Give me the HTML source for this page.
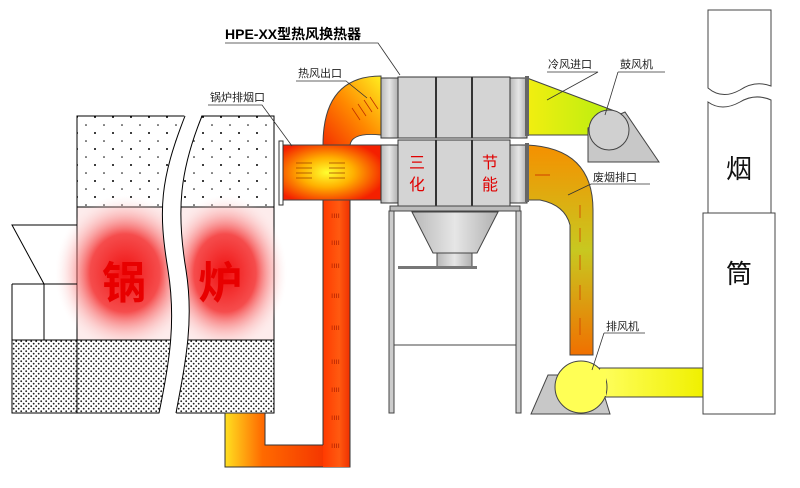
<!DOCTYPE html>
<html><head><meta charset="utf-8"><style>
html,body{margin:0;padding:0;background:#fff;}
svg{display:block;}
text{font-family:"Liberation Sans","Noto Sans CJK SC",sans-serif;}
</style></head><body>
<svg width="800" height="488" viewBox="0 0 800 488" xmlns="http://www.w3.org/2000/svg">
<defs>
<pattern id="dots" width="18" height="16" patternUnits="userSpaceOnUse"><rect width="18" height="16" fill="#fff"/><circle cx="5" cy="5" r="1" fill="#000"/><circle cx="14" cy="13" r="0.8" fill="#000"/></pattern>
<pattern id="stip" width="5" height="5" patternUnits="userSpaceOnUse"><rect width="5" height="5" fill="#fff"/><circle cx="1.2" cy="1.2" r="0.9" fill="#222"/><circle cx="3.7" cy="3.7" r="0.9" fill="#222"/></pattern>
<radialGradient id="glow" cx="0.5" cy="0.5" r="0.5"><stop offset="0" stop-color="#f01010" stop-opacity="1"/><stop offset="0.5" stop-color="#f43030" stop-opacity="0.85"/><stop offset="1" stop-color="#fde0e0" stop-opacity="0"/></radialGradient>
<radialGradient id="hduct" cx="0.45" cy="0.5" r="0.6"><stop offset="0" stop-color="#ffff30"/><stop offset="0.45" stop-color="#ffb000"/><stop offset="1" stop-color="#f42000"/></radialGradient>
<linearGradient id="vduct" x1="0" y1="0" x2="1" y2="0"><stop offset="0" stop-color="#ff3a00"/><stop offset="0.6" stop-color="#ff5a10"/><stop offset="1" stop-color="#f03000"/></linearGradient>
<linearGradient id="bduct" x1="0" y1="0" x2="1" y2="0"><stop offset="0" stop-color="#ffe020"/><stop offset="0.3" stop-color="#ff6a00"/><stop offset="1" stop-color="#f02000"/></linearGradient>
<linearGradient id="elbow" x1="0" y1="1" x2="1" y2="0"><stop offset="0" stop-color="#f43000"/><stop offset="0.5" stop-color="#ff8a00"/><stop offset="1" stop-color="#ffee20"/></linearGradient>
<linearGradient id="cold" x1="0" y1="0" x2="1" y2="0"><stop offset="0" stop-color="#f2ee10"/><stop offset="1" stop-color="#b8ee10"/></linearGradient>
<linearGradient id="exh" x1="0" y1="0" x2="0" y2="1"><stop offset="0" stop-color="#f59000"/><stop offset="0.5" stop-color="#c8c820"/><stop offset="1" stop-color="#f07000"/></linearGradient>
<linearGradient id="ylw" x1="0" y1="0" x2="1" y2="0"><stop offset="0" stop-color="#ffff60"/><stop offset="1" stop-color="#f0f000"/></linearGradient>
<linearGradient id="metal" x1="0" y1="0" x2="1" y2="0"><stop offset="0" stop-color="#b8b8b8"/><stop offset="0.5" stop-color="#e6e6e6"/><stop offset="1" stop-color="#b0b0b0"/></linearGradient>
</defs>

<!-- boiler -->
<rect x="77" y="116" width="197" height="91" fill="url(#dots)" stroke="#000"/>
<rect x="77" y="207" width="197" height="133" fill="#fdecec" stroke="#000"/>
<ellipse cx="125" cy="273" rx="70" ry="78" fill="url(#glow)"/>
<ellipse cx="225" cy="273" rx="62" ry="78" fill="url(#glow)"/>
<rect x="77" y="340" width="197" height="73" fill="url(#stip)" stroke="#000"/>
<rect x="12" y="340" width="65" height="73" fill="url(#stip)" stroke="#000"/>
<polyline points="12,284 77,284" fill="none" stroke="#000"/>
<line x1="12" y1="284" x2="12" y2="340" stroke="#000"/>
<line x1="44" y1="284" x2="44" y2="340" stroke="#000"/>
<polyline points="77,225 12,225 44,284" fill="none" stroke="#000"/>
<path d="M185,114 C160,180 158,210 168,270 C176,320 170,360 159,415 L176,415 C186,360 194,320 186,270 C176,210 180,170 202,114 Z" fill="#fff"/>
<path d="M185,116 C160,180 158,210 168,270 C176,320 170,360 159,413" fill="none" stroke="#000"/>
<path d="M202,116 C180,170 176,210 186,270 C194,320 186,360 176,413" fill="none" stroke="#000"/>
<text x="102" y="298" font-size="44" fill="#e80000" font-weight="bold">锅</text>
<text x="198" y="298" font-size="44" fill="#e80000" font-weight="bold">炉</text>

<!-- ducts from boiler -->
<path d="M225,413 L265,413 L265,445 L323,445 L323,200 L350,200 L350,467 L225,467 Z" fill="url(#bduct)" stroke="#333"/>
<rect x="323" y="200" width="27" height="267" fill="url(#vduct)"/>
<line x1="323" y1="200" x2="323" y2="445" stroke="#333"/><line x1="350" y1="200" x2="350" y2="467" stroke="#333"/>
<g font-size="8" fill="#b02000"><text x="331" y="218">ıııı</text><text x="331" y="245">ıııı</text><text x="331" y="268">ıııı</text><text x="331" y="298">ıııı</text><text x="331" y="330">ıııı</text><text x="331" y="364">ıııı</text><text x="331" y="392">ıııı</text><text x="331" y="420">ıııı</text><text x="331" y="448">ıııı</text></g>
<path d="M323,145 Q323,76 381,76 L381,135 Q352,132 350,145 Z" fill="url(#elbow)" stroke="#444"/>
<g stroke="#c03000" fill="none" stroke-width="0.8"><path d="M352,108 l8,12 M358,104 l8,12 M364,100 l8,12 M370,97 l8,12"/></g>
<rect x="283" y="145" width="98" height="55" fill="url(#hduct)" stroke="#444"/>
<rect x="279" y="141" width="4" height="64" fill="#fff" stroke="#333"/>
<g stroke="#a04000" stroke-width="0.8"><path d="M296,163h16M296,168h16M296,173h16M296,178h16M329,163h16M329,168h16M329,173h16M329,178h16"/></g>

<!-- heat exchanger -->
<rect x="381" y="78" width="17" height="60" fill="url(#metal)" stroke="#333"/>
<rect x="381" y="145" width="17" height="58" fill="url(#metal)" stroke="#333"/>
<rect x="510" y="78" width="17" height="60" fill="url(#metal)" stroke="#333"/>
<rect x="510" y="145" width="17" height="58" fill="url(#metal)" stroke="#333"/>
<rect x="398" y="77" width="112" height="61" fill="#d4d4d4" stroke="#333"/>
<line x1="436" y1="77" x2="436" y2="138" stroke="#333" stroke-width="2"/><line x1="472" y1="77" x2="472" y2="138" stroke="#333" stroke-width="2"/>
<rect x="398" y="140" width="112" height="66" fill="#d4d4d4" stroke="#333"/>
<line x1="436" y1="140" x2="436" y2="206" stroke="#333" stroke-width="2"/><line x1="472" y1="140" x2="472" y2="206" stroke="#333" stroke-width="2"/>
<rect x="390" y="206" width="130" height="5" fill="#bbb" stroke="#444"/>
<text x="409" y="168" font-size="16" fill="#e00000">三</text>
<text x="409" y="190" font-size="16" fill="#e00000">化</text>
<text x="482" y="168" font-size="16" fill="#e00000">节</text>
<text x="482" y="190" font-size="16" fill="#e00000">能</text>

<!-- stand -->
<rect x="389" y="211" width="5" height="202" fill="#ccc" stroke="#444"/>
<rect x="516" y="211" width="5" height="202" fill="#ccc" stroke="#444"/>
<line x1="394" y1="345" x2="516" y2="345" stroke="#444"/>
<path d="M412,212 L498,212 L477,253 L433,253 Z" fill="url(#metal)" stroke="#444"/>
<rect x="437" y="253" width="35" height="15" fill="url(#metal)" stroke="#444"/>
<rect x="398" y="266" width="79" height="3" fill="#777"/>

<!-- cold inlet -->
<path d="M527,78 L612,110 L590,135 L527,135 Z" fill="url(#cold)" stroke="#444"/>
<path d="M588,128 L588,162 L659,162 L625,112 Z" fill="#c8c8c8" stroke="#444"/>
<circle cx="609" cy="130" r="20" fill="#d0d0d0" stroke="#444"/>
<rect x="525" y="76" width="4" height="60" fill="#666"/>

<!-- exhaust -->
<path d="M527,145 Q593,148 593,210 L593,355 L570,355 L570,225 Q565,205 540,200 L527,200 Z" fill="url(#exh)" stroke="#444"/>
<rect x="525" y="143" width="4" height="59" fill="#666"/>
<g stroke="#d04000" fill="#d04000"><line x1="535" y1="175" x2="550" y2="175"/><g stroke-width="0.8"><line x1="580" y1="205" x2="580" y2="218"/><line x1="580" y1="228" x2="580" y2="242"/><line x1="580" y1="255" x2="580" y2="270"/><line x1="580" y1="285" x2="580" y2="300"/><line x1="580" y1="318" x2="580" y2="335"/></g></g>
<path d="M531,414 L610,414 L598,375 L548,375 Z" fill="#c8c8c8" stroke="#444"/>
<rect x="598" y="368" width="105" height="29" fill="url(#ylw)" stroke="#444"/>
<circle cx="581" cy="387" r="26" fill="#ffff55" stroke="#444"/>
<rect x="600" y="369" width="6" height="27" fill="#ffff55"/>

<!-- chimney -->
<path d="M708,10 L771,10 L771,86 Q755,80 740,90 Q722,100 708,88 Z" fill="#fff" stroke="#444"/>
<path d="M708,102 Q722,112 740,102 Q755,93 771,100 L771,213 L708,213 Z" fill="#fff" stroke="#444"/>
<rect x="703" y="213" width="72" height="201" fill="#fff" stroke="#444"/>
<text x="726" y="178" font-size="26" fill="#111">烟</text>
<text x="726" y="283" font-size="26" fill="#111">筒</text>

<!-- labels -->
<g font-size="11" fill="#222" stroke="none">
<text x="225" y="39" font-family="Liberation Serif,Noto Serif CJK SC,serif" font-size="14" font-weight="bold" fill="#000">HPE-XX型热风换热器</text>
<text x="298" y="77">热风出口</text>
<text x="210" y="101">锅炉排烟口</text>
<text x="548" y="68">冷风进口</text>
<text x="620" y="68">鼓风机</text>
<text x="593" y="181">废烟排口</text>
<text x="606" y="330">排风机</text>
</g>
<g stroke="#333" fill="none" stroke-width="0.8">
<path d="M225,43 L378,43 L400,75"/>
<path d="M296,81 L346,81 L367,98"/>
<path d="M208,105 L262,105 L292,146"/>
<path d="M547,72 L598,72 L547,100"/>
<path d="M618,72 L665,72 M618,72 L605,115"/>
<path d="M591,184 L650,184 M591,184 L568,195"/>
<path d="M604,333 L645,333 M604,333 L592,370"/>
</g>
</svg>
</body></html>
